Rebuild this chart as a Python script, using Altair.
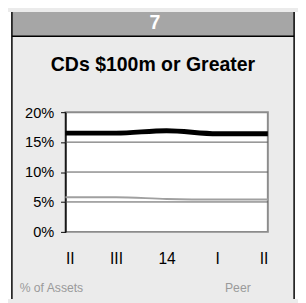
import json
import altair as alt
import pandas as pd

quarters = ["II", "III", "14", "I", "II"]
bank = [16.5, 16.5, 16.9, 16.4, 16.4]
peer = [5.8, 5.8, 5.5, 5.4, 5.4]
y_ticks = [0, 5, 10, 15, 20]
grid_vals = [5, 10, 15]
header_text = "7"
title_text = "CDs $100m or Greater"
footer_left = "% of Assets"
footer_right = "Peer"

W, H = 208, 123
FONT = "Liberation Sans"

df = pd.DataFrame({
    "i": list(range(len(quarters))) * 2,
    "v": bank + peer,
    "s": ["Bank"] * len(bank) + ["Peer"] * len(peer),
})
gdf = pd.DataFrame({"v": grid_vals})
one = pd.DataFrame({"k": [0]})

xs = alt.Scale(domain=[0, len(quarters) - 1], nice=False, zero=False)
ys = alt.Scale(domain=[0, 20], nice=False)
label_expr = json.dumps(quarters) + "[datum.value]"

yaxis = alt.Axis(values=y_ticks, labelExpr="datum.value + '%'", grid=False,
                 domainColor="black", domainWidth=1.5, tickColor="black",
                 tickSize=5, tickWidth=1, labelFontSize=15, labelColor="black",
                 labelPadding=7, labelFont=FONT)

deco = alt.Chart(one)


def rect(x, x2, y, y2, color):
    return deco.mark_rect(color=color, strokeWidth=0).encode(
        x=alt.value(x), x2=alt.value(x2), y=alt.value(y), y2=alt.value(y2))


def rule(x, x2, y, y2, color, w):
    return deco.mark_rule(color=color, strokeWidth=w).encode(
        x=alt.value(x), x2=alt.value(x2), y=alt.value(y), y2=alt.value(y2))


def text(t, x, y, size, color, bold=False, align="center"):
    return deco.mark_text(
        fontSize=size, color=color, font=FONT,
        fontWeight="bold" if bold else "normal", align=align, baseline="alphabetic"
    ).encode(x=alt.value(x), y=alt.value(y), text=alt.value(t))


grid = alt.Chart(gdf).mark_rule(color="#555555", strokeWidth=1).encode(
    y=alt.Y("v:Q", scale=ys, title=None, axis=yaxis),
    x=alt.value(0), x2=alt.value(W),
)

lines = alt.Chart(df).mark_line(interpolate="monotone").encode(
    x=alt.X("i:Q", scale=xs, title=None,
            axis=alt.Axis(values=list(range(len(quarters))), labelExpr=label_expr,
                          grid=False, domain=False, ticks=False, tickSize=0,
                          labelFontSize=16, labelColor="black", labelPadding=20,
                          labelFont=FONT)),
    y=alt.Y("v:Q", scale=ys, title=None, axis=yaxis),
    color=alt.Color("s:N", scale=alt.Scale(domain=["Bank", "Peer"], range=["black", "#a0a0a0"]), legend=None),
    strokeWidth=alt.StrokeWidth("s:N", scale=alt.Scale(domain=["Bank", "Peer"], range=[5, 2]), legend=None),
)

chart = alt.layer(
    rect(-59, -55, -103, 192, "white"),
    rect(236, 239, -103, 192, "white"),
    rect(-55, 235, -103, -78, "#a6a6a6"),
    rule(-55, 235, -78, -78, "black", 1.5),
    rule(-55, -55, -103, 192, "black", 1.5),
    rule(235, 235, -103, 192, "black", 1.5),
    text(header_text, 92, -85, 20, "white", bold=True),
    text(title_text, 90, -42, 20, "black", bold=True),
    text(footer_left, -47, 185, 12.5, "#9a9a9a", align="left"),
    text(footer_right, 164, 185, 12.5, "#9a9a9a", align="left"),
    grid,
    lines,
).properties(
    width=W, height=H,
    padding={"left": 59, "top": 103, "right": 31, "bottom": 69},
    autosize=alt.AutoSizeParams(type="none"),
).configure(
    background="#ebebeb", font=FONT,
).configure_view(
    fill="white", stroke="#8c8c8c", strokeWidth=2,
)

chart.save("out.html", embed_options={"renderer": "svg", "actions": False})
